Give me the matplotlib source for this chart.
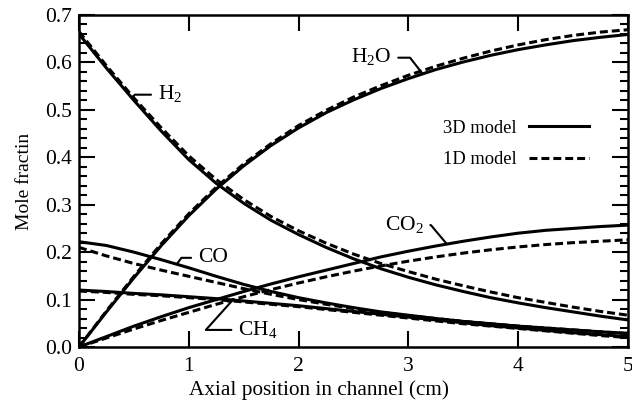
import numpy as np
import matplotlib
matplotlib.use("Agg")
import matplotlib.pyplot as plt
from matplotlib.ticker import MultipleLocator, FormatStrFormatter

plt.rcParams['font.family'] = ['Liberation Serif', 'DejaVu Serif']
plt.rcParams['mathtext.fontset'] = 'custom'
plt.rcParams['mathtext.rm'] = 'Liberation Serif'

# axial position (cm)
x = np.arange(0, 5.01, 0.25)

# 3D model
h2_3d = [0.660, 0.588, 0.520, 0.455, 0.395, 0.345, 0.303, 0.267, 0.237, 0.210,
         0.186, 0.165, 0.147, 0.131, 0.117, 0.104, 0.093, 0.083, 0.074, 0.065, 0.057]
h2o_3d = [0.000, 0.074, 0.146, 0.214, 0.277, 0.333, 0.382, 0.425, 0.462, 0.494,
          0.521, 0.545, 0.566, 0.585, 0.601, 0.615, 0.627, 0.637, 0.646, 0.653, 0.659]
co2_3d = [0.000, 0.022, 0.044, 0.064, 0.083, 0.100, 0.117, 0.133, 0.148, 0.162,
          0.176, 0.190, 0.202, 0.213, 0.223, 0.232, 0.240, 0.246, 0.250, 0.254, 0.257]
co_3d = [0.222, 0.214, 0.200, 0.184, 0.167, 0.149, 0.132, 0.117, 0.104, 0.093,
         0.083, 0.074, 0.067, 0.060, 0.054, 0.049, 0.044, 0.040, 0.036, 0.032, 0.029]
ch4_3d = [0.120, 0.117, 0.113, 0.110, 0.106, 0.102, 0.097, 0.092, 0.087, 0.081,
          0.075, 0.069, 0.063, 0.057, 0.051, 0.045, 0.040, 0.035, 0.030, 0.026, 0.022]

# 1D model
h2_1d = [0.665, 0.593, 0.525, 0.462, 0.403, 0.353, 0.311, 0.275, 0.245, 0.219,
         0.196, 0.176, 0.159, 0.143, 0.129, 0.116, 0.104, 0.094, 0.084, 0.075, 0.067]
h2o_1d = [0.000, 0.076, 0.149, 0.218, 0.281, 0.337, 0.386, 0.429, 0.467, 0.499,
          0.527, 0.551, 0.573, 0.592, 0.609, 0.624, 0.637, 0.648, 0.657, 0.664, 0.669]
co2_1d = [0.000, 0.019, 0.038, 0.056, 0.073, 0.090, 0.106, 0.121, 0.135, 0.148,
          0.160, 0.171, 0.181, 0.190, 0.198, 0.205, 0.211, 0.216, 0.220, 0.223, 0.226]
co_1d = [0.210, 0.192, 0.176, 0.162, 0.149, 0.136, 0.123, 0.111, 0.100, 0.090,
         0.081, 0.073, 0.066, 0.060, 0.054, 0.049, 0.044, 0.040, 0.036, 0.032, 0.028]
ch4_1d = [0.118, 0.115, 0.111, 0.108, 0.104, 0.100, 0.095, 0.090, 0.085, 0.079,
          0.073, 0.067, 0.061, 0.055, 0.049, 0.044, 0.039, 0.034, 0.029, 0.024, 0.020]

fig = plt.figure(figsize=(6.32, 4.09), dpi=100)
ax = fig.add_axes([0.125, 0.1516, 0.8687, 0.8117])

lw = 2.2
dash = (2.6, 1.3)
for y3, y1 in [(h2_3d, h2_1d), (h2o_3d, h2o_1d), (co2_3d, co2_1d),
               (co_3d, co_1d), (ch4_3d, ch4_1d)]:
    ax.plot(x, y3, color='black', lw=lw, solid_capstyle='butt')
    ax.plot(x, y1, color='black', lw=lw, dashes=dash)

# species labels with bent leader lines
fs = 15.5
def tag(text, xi, series, tx, ty, angle):
    ax.annotate(text, xy=(xi, np.interp(xi, x, series)), xytext=(tx, ty),
                fontsize=fs, ha='center', va='center',
                arrowprops=dict(arrowstyle='-', lw=1.5, color='black',
                                shrinkA=3, shrinkB=0,
                                connectionstyle='angle,angleA=0,angleB=%d,rad=0' % angle))

tag('H$_2$', 0.48, h2_3d, 0.83, 0.532, 45)
tag('H$_2$O', 3.13, h2o_3d, 2.66, 0.61, -52)
tag('CO$_2$', 3.35, co2_3d, 2.96, 0.257, -50)
tag('CO', 0.89, co_3d, 1.22, 0.188, 54)
tag('CH$_4$', 1.40, ch4_3d, 1.63, 0.036, 48)

ax.plot([], [], color='black', lw=lw, label='3D model')
ax.plot([], [], color='black', lw=lw, dashes=dash, label='1D model')
ax.legend(loc='upper right', bbox_to_anchor=(0.929, 0.684), frameon=False,
          markerfirst=False, fontsize=13.3, handlelength=3.25, handletextpad=0.65,
          labelspacing=0.78, borderpad=0, borderaxespad=0)

ax.set_xlim(0, 5)
ax.set_ylim(0, 0.7)
ax.xaxis.set_major_locator(MultipleLocator(1))
ax.yaxis.set_major_locator(MultipleLocator(0.1))
ax.yaxis.set_minor_locator(MultipleLocator(0.02))
ax.yaxis.set_major_formatter(FormatStrFormatter('%.1f'))
ax.tick_params(which='both', direction='in', top=True, right=True,
               labelsize=15.5, width=1.5, color='black')
ax.tick_params(which='major', length=11.5, pad=5)
ax.tick_params(axis='x', which='major', pad=7)
ax.tick_params(which='minor', length=6)
for s in ax.spines.values():
    s.set_linewidth(1.8)

ax.set_xlabel('Axial position in channel (cm)', fontsize=15.3, x=0.437, labelpad=3)
ax.set_ylabel('Mole fractin', fontsize=14, labelpad=9)

fig.savefig('out.png', dpi=100)
